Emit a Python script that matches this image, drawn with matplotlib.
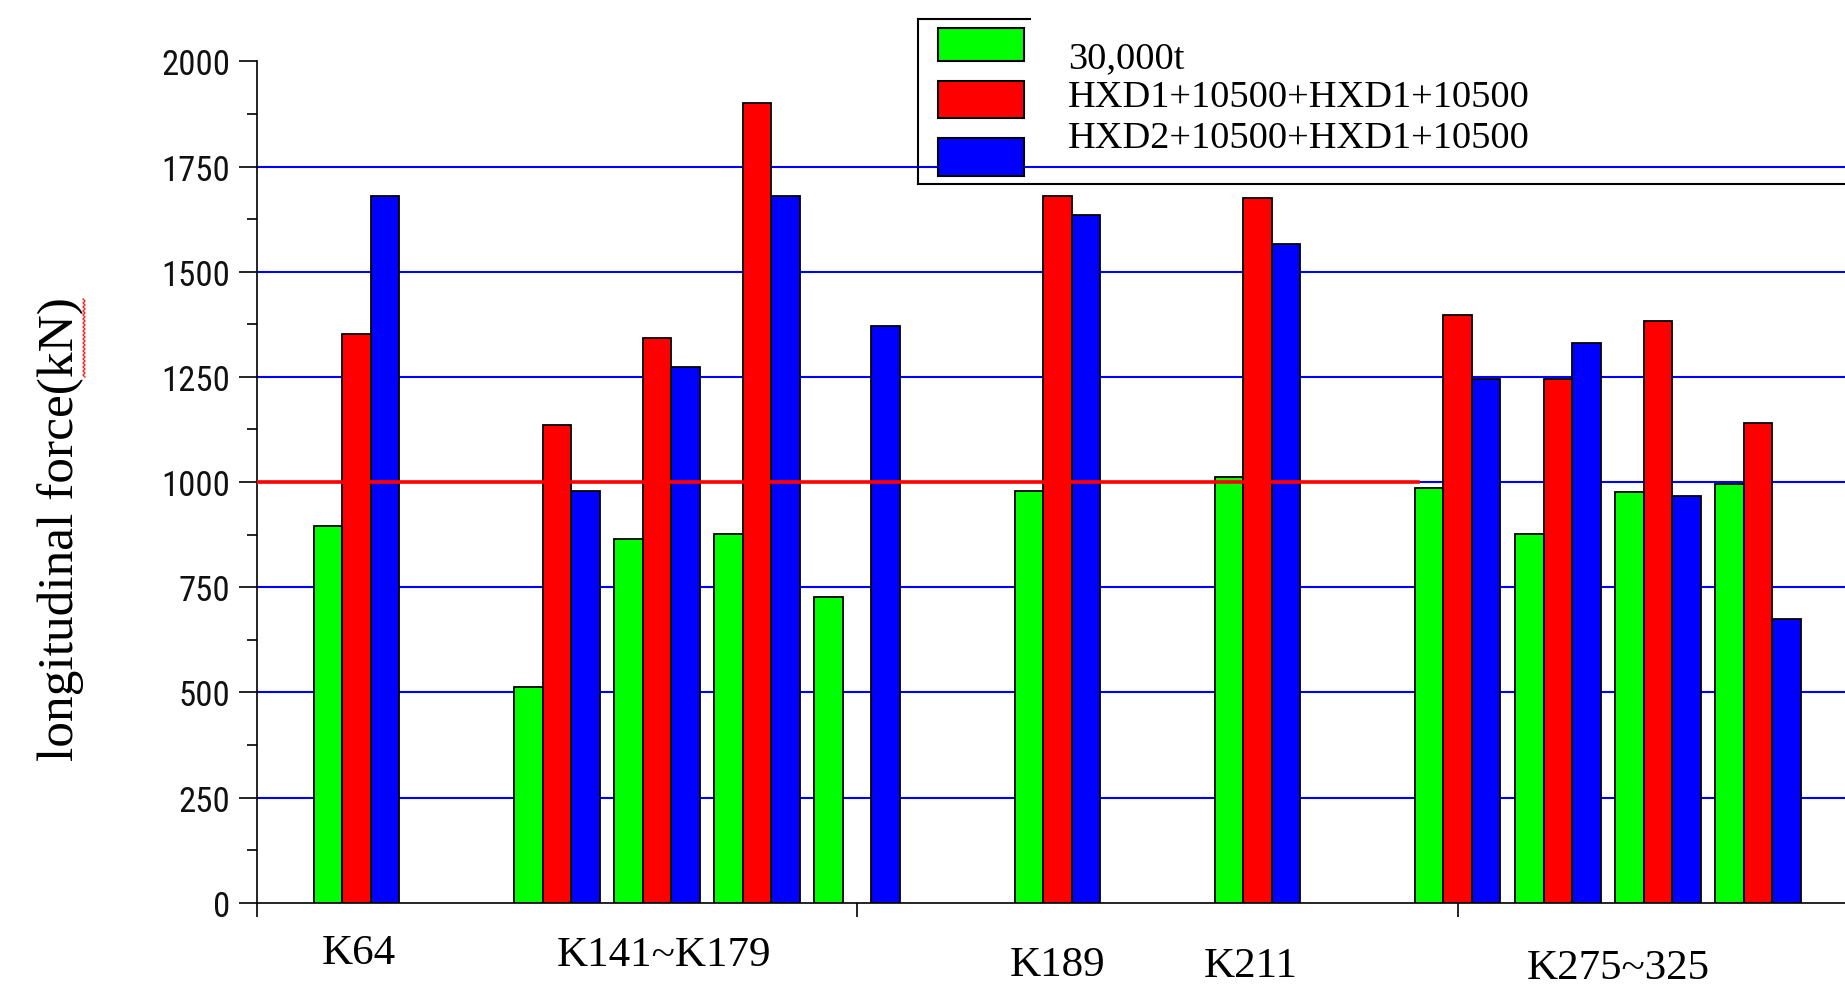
import numpy as np
import matplotlib
matplotlib.use("Agg")
import matplotlib.pyplot as plt
from matplotlib.patches import Rectangle
from matplotlib.lines import Line2D
from matplotlib.transforms import blended_transform_factory
from matplotlib import font_manager

# positions des sous-groupes sur l'axe x
slots = [1, 3, 4, 5, 6, 8, 10, 12, 13, 14, 15]
green = [895, 512, 864, 876, 727, 979, 1013, 987, 876, 976, 996]
red = [1351, 1136, 1343, 1902, np.nan, 1681, 1675, 1396, 1245, 1382, 1141]
blue = [1681, 979, 1273, 1681, 1371, 1636, 1566, 1245, 1331, 968, 674]

series_names = ["30,000t", "HXD1+10500+HXD1+10500", "HXD2+10500+HXD1+10500"]
series_colors = ["#00ff00", "#ff0000", "#0000ff"]

group_labels = ["K64", "K141~K179", "K189", "K211", "K275~325"]
group_x = [1.02, 4.07, 8, 9.93, 13.6]
group_y = [954, 956, 966, 967, 969]  # pixels depuis le haut

limit = 1000
limit_end = 11.6
grid_vals = [250, 500, 750, 1000, 1250, 1500, 1750]

# police étroite pour les graduations si disponible
names = {f.name for f in font_manager.fontManager.ttflist}
narrow = [n for n in ["DejaVu Sans Condensed", "Liberation Sans Narrow", "Roboto Condensed"]
          if n in names]
tick_family = narrow + ["DejaVu Sans"]
tick_size = 25 if narrow else 22.5

W, H = 1845, 987
fig = plt.figure(figsize=(W / 100, H / 100), dpi=100)
ax = fig.add_axes([256.5 / W, 83.3 / H, 1 - 256.5 / W, 0.8524])

bw = 0.285
x = np.array(slots, dtype=float)
for i, (vals, col) in enumerate(zip([green, red, blue], series_colors)):
    ax.bar(x + (i - 1) * bw, vals, width=bw, color=col, edgecolor="black",
           linewidth=1.3, zorder=3)

for g in grid_vals:
    ax.axhline(g, color="#0000ff", lw=1.5, zorder=1)
ax.plot([0, limit_end], [limit, limit], color="#ff0000", lw=2.6, zorder=4)

ax.set_xlim(0, (W - 256.5) / 100.1)
ax.set_ylim(0, 2000)
ax.set_yticks(range(0, 2001, 250))
ax.set_yticks(range(125, 2000, 250), minor=True)
ax.set_xticks([0, 6, 12])
ax.set_xticklabels([])
for s in ["top", "right"]:
    ax.spines[s].set_visible(False)
for s in ["left", "bottom"]:
    ax.spines[s].set_linewidth(1.2)
ax.tick_params(axis="y", which="major", direction="out", length=13, width=1.2, pad=6,
               labelsize=tick_size, labelcolor="#111111")
ax.tick_params(axis="y", which="minor", direction="out", length=7, width=1.2)
ax.tick_params(axis="x", which="major", direction="out", length=10, width=1.2)
for lab in ax.get_yticklabels():
    lab.set_family(tick_family)

trans = blended_transform_factory(ax.transData, fig.transFigure)
for lab, gx, gy in zip(group_labels, group_x, group_y):
    ax.text(gx, 1 - gy / H, lab, transform=trans, ha="center", va="center",
            fontsize=31, family="Liberation Serif", clip_on=False)

fig.text(61 / W, 1 - 529 / H, "longitudinal force(kN)", rotation=90,
         ha="center", va="center", fontsize=37, family="Liberation Serif")
# soulignement ondulé rouge sous "kN"
zy = np.linspace(300, 378, 40)
zx = 83 + 2.0 * (np.arange(40) % 2)
fig.add_artist(Line2D(zx / W, 1 - zy / H, color="#ff2020", lw=1.0,
                      transform=fig.transFigure))

# légende dessinée à la main
lx0, ly0, ly1 = 918, 20, 184.7
fig.add_artist(Line2D([lx0 / W, lx0 / W], [1 - ly0 / H, 1 - ly1 / H], color="black",
                      lw=1.5, transform=fig.transFigure))
fig.add_artist(Line2D([lx0 / W, 1.0], [1 - ly1 / H, 1 - ly1 / H], color="black",
                      lw=1.5, transform=fig.transFigure))
fig.add_artist(Line2D([lx0 / W, 1030 / W], [1 - ly0 / H, 1 - ly0 / H], color="black",
                      lw=1.5, transform=fig.transFigure))
fig.patches.append(Rectangle((lx0 / W, 1 - ly1 / H), 1 - lx0 / W, (ly1 - ly0) / H,
                             transform=fig.transFigure, facecolor="white",
                             edgecolor="none", zorder=-1))
patch_y = [(29.4, 62.4), (82.4, 118.8), (138.8, 176.5)]
text_y = [58.5, 97.5, 138.5]
for name, col, (py0, py1), ty in zip(series_names, series_colors, patch_y, text_y):
    fig.patches.append(Rectangle((938 / W, 1 - py1 / H), 86 / W, (py1 - py0) / H,
                                 transform=fig.transFigure, facecolor=col,
                                 edgecolor="black", lw=1.5))
    fig.text(1068 / W, 1 - ty / H, name, ha="left", va="center", fontsize=27.6,
             family="Liberation Serif")

fig.savefig("out.png", dpi=100)
